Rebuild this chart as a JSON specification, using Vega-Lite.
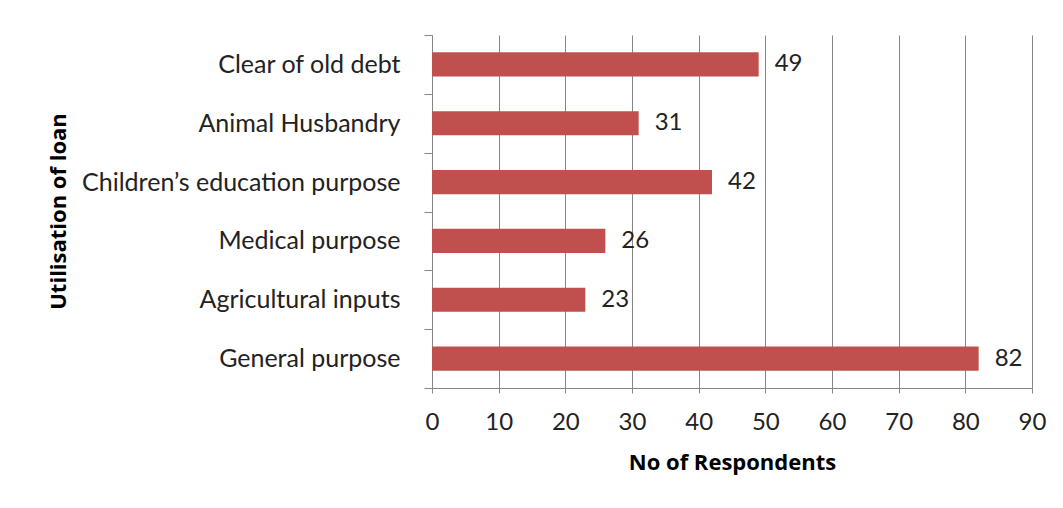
{
  "$schema": "https://vega.github.io/schema/vega-lite/v6.json",
  "autosize": {"type": "none"},
  "width": 600,
  "height": 353,
  "padding": {"left": 432, "top": 35, "right": 31, "bottom": 120},
  "background": "white",
  "config": {"view": {"stroke": null}, "font": "Lato"},
  "data": {"values": [
    {"use": "Clear of old debt", "n": 49},
    {"use": "Animal Husbandry", "n": 31},
    {"use": "Children’s education purpose", "n": 42},
    {"use": "Medical purpose", "n": 26},
    {"use": "Agricultural inputs", "n": 23},
    {"use": "General purpose", "n": 82}
  ]},
  "encoding": {
    "y": {"field": "use", "type": "nominal", "sort": null,
      "scale": {"paddingInner": 0, "paddingOuter": 0},
      "axis": {"title": "Utilisation of loan", "titleFont": "Open Sans", "titleFontSize": 22, "titleFontWeight": "bold", "titleColor": "black", "titleX": -374, "titleY": 176, "titleBaseline": "middle", "titleAngle": -90,
        "labelFont": "Lato", "labelFontSize": 25, "labelColor": "#222", "labelPadding": 24, "labelLimit": 0, "tickBand": "extent", "tickSize": 8, "tickColor": "#868686", "domainColor": "#868686", "grid": false}},
    "x": {"field": "n", "type": "quantitative",
      "scale": {"domain": [0, 90], "nice": false},
      "axis": {"title": "No of Respondents", "titleFont": "Open Sans", "titleFontSize": 22, "titleFontWeight": "bold", "titleColor": "black", "titlePadding": 18,
        "values": [0,10,20,30,40,50,60,70,80,90], "labelFlush": false, "labelFont": "Lato", "labelFontSize": 24, "labelColor": "#222", "labelPadding": 17, "tickSize": 5, "tickColor": "#868686", "domainColor": "#868686", "grid": true, "gridColor": "#868686", "gridOpacity": 1}}
  },
  "layer": [
    {"mark": {"type": "bar", "color": "#c0504d", "height": {"band": 0.41}}},
    {"mark": {"type": "text", "align": "left", "dx": 16, "fontSize": 24, "font": "Lato", "color": "#222"}, "encoding": {"text": {"field": "n", "type": "quantitative"}}}
  ]
}
